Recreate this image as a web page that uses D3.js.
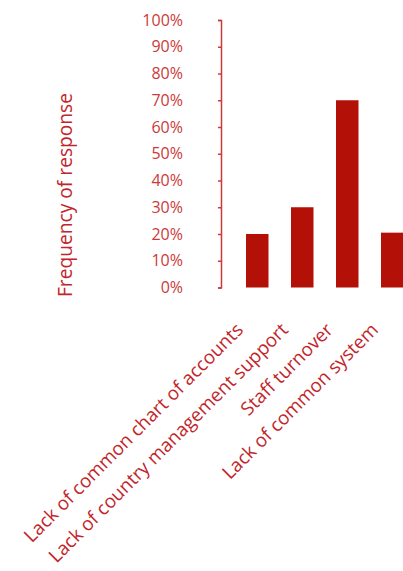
<!DOCTYPE html>
<html>
<head>
<meta charset="utf-8">
<script src="https://cdn.jsdelivr.net/npm/d3@7"></script>
<style>
  html, body { margin: 0; padding: 0; background: #fff; }
  svg { display: block; }
  text { font-family: "Open Sans", sans-serif; font-weight: 400; }
</style>
</head>
<body>
<svg id="chart" width="403" height="571"></svg>
<script>
// Survey responses: obstacles reported
const categories = [
  "Lack of common chart of accounts",
  "Lack of country management support",
  "Staff turnover",
  "Lack of common system"
];
const frequency = [0.20, 0.30, 0.70, 0.205];
const yTicks = [0, 0.1, 0.2, 0.3, 0.4, 0.5, 0.6, 0.7, 0.8, 0.9, 1.0];
const yTitle = "Frequency of response";

const svg = d3.select("#chart");
const axisX = 221;
const y = d3.scaleLinear().domain([0, 1]).range([287.5, 20]);
const x = d3.scaleBand().domain(categories).range([234.75, 414.75])
  .paddingInner(0.5).paddingOuter(0.25);

const barColor = "#b31107";
const axisColor = "#cc3a3a";
const labelColor = "#c2262b";

// bars
svg.append("g").selectAll("rect")
  .data(categories)
  .join("rect")
  .attr("x", d => x(d))
  .attr("width", x.bandwidth())
  .attr("y", (d, i) => y(frequency[i]))
  .attr("height", (d, i) => y(0) - y(frequency[i]))
  .attr("fill", barColor);

// y axis
const yAxis = d3.axisLeft(y)
  .tickValues(yTicks)
  .tickFormat(d3.format(".0%"))
  .tickSize(3)
  .tickSizeOuter(3)
  .tickPadding(35);
const gy = svg.append("g")
  .attr("transform", `translate(${axisX},0)`)
  .call(yAxis);
gy.select(".domain").attr("stroke", axisColor).attr("stroke-width", 1.5);
gy.selectAll(".tick line").attr("stroke", axisColor).attr("stroke-width", 1.5);
gy.selectAll(".tick text")
  .attr("fill", axisColor)
  .attr("font-family", null)
  .attr("font-size", null)
  .style("font-size", "16px");

// y axis title
svg.append("text")
  .attr("transform", `translate(72,195) rotate(-90)`)
  .attr("text-anchor", "middle")
  .attr("fill", labelColor)
  .style("font-size", "19.2px")
  .text(yTitle);

// category labels, rotated
svg.append("g").selectAll("text")
  .data(categories)
  .join("text")
  .attr("transform", d => `translate(${x(d) + x.bandwidth() / 2 - 13},331) rotate(-45)`)
  .attr("text-anchor", "end")
  .attr("fill", labelColor)
  .style("font-size", "18.8px")
  .text(d => d);
</script>
</body>
</html>
